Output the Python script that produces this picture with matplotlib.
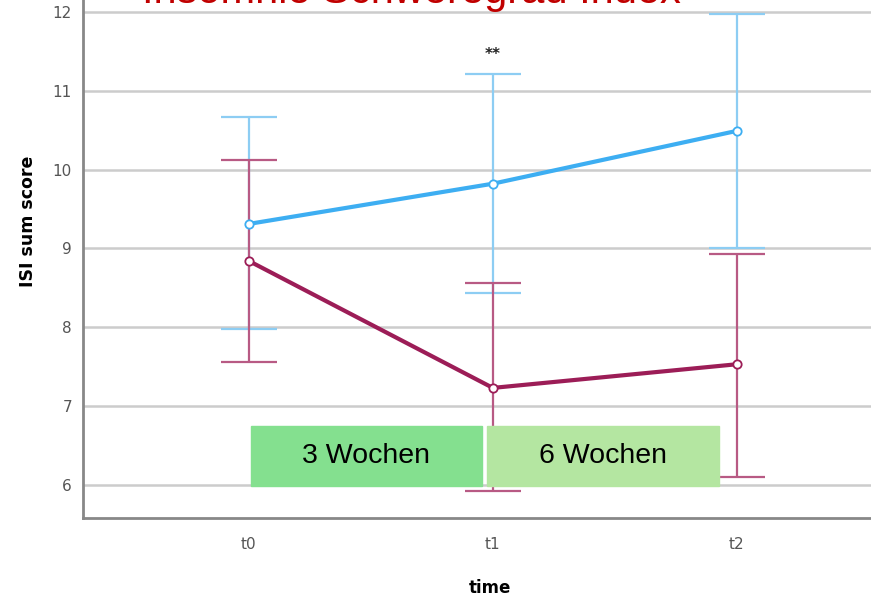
import matplotlib.pyplot as plt
from matplotlib.patches import Rectangle

time_labels = ["t0", "t1", "t2"]
blue_mean = [9.31, 9.82, 10.49]
blue_low = [7.98, 8.43, 9.00]
blue_high = [10.66, 11.21, 11.97]
purple_mean = [8.84, 7.23, 7.53]
purple_low = [7.56, 5.92, 6.10]
purple_high = [10.12, 8.56, 8.93]
y_ticks = [6, 7, 8, 9, 10, 11, 12]
phase_labels = ["3 Wochen", "6 Wochen"]
phase_colors = ["#84E08F", "#B4E6A1"]

fig = plt.figure(figsize=(8.71, 5.98), dpi=100)
ax = fig.add_axes([0.0953, 0.1338, 0.9047, 0.8662])
x = list(range(len(time_labels)))

for mean, low, high, line_c, err_c in [
    (blue_mean, blue_low, blue_high, "#3DAEF2", "#8DCDF3"),
    (purple_mean, purple_low, purple_high, "#9C1D57", "#B85A84"),
]:
    err = [[m - l for m, l in zip(mean, low)], [h - m for m, h in zip(mean, high)]]
    ax.errorbar(x, mean, yerr=err, fmt="none", ecolor=err_c, elinewidth=1.6,
                capsize=20, capthick=1.6, zorder=2)
    ax.plot(x, mean, color=line_c, lw=3, marker="o", ms=6, mfc="white",
            mec=line_c, mew=1.3, zorder=3)

# phase boxes between the time points
for i, (lab, col) in enumerate(zip(phase_labels, phase_colors)):
    x0 = x[i] + (0.008 if i == 0 else -0.025)
    w = 0.947 if i == 0 else 0.951
    ax.add_patch(Rectangle((x0, 5.985), w, 0.76, color=col, zorder=4))
    ax.text(x0 + w / 2, 5.985 + 0.38, lab, ha="center", va="center",
            fontsize=20.5, family="Liberation Sans", zorder=5)

ax.text(x[1], 11.46, "**", ha="center", va="center", fontsize=11,
        fontweight="bold", color="#222222")

ax.set_xlim(-0.68, 2.55)
ax.set_ylim(5.58, 12.15)
ax.set_xticks(x)
ax.set_xticklabels(time_labels)
ax.set_yticks(y_ticks)
ax.tick_params(length=0, labelsize=11, colors="#555555", pad=8)
ax.tick_params(axis="x", pad=14)
ax.grid(axis="y", color="#CCCCCC", lw=1.8, zorder=0)
ax.set_axisbelow(True)
for s in ["top", "right"]:
    ax.spines[s].set_visible(False)
for s in ["left", "bottom"]:
    ax.spines[s].set_color("#888888")
    ax.spines[s].set_linewidth(2)
ax.set_ylabel("ISI sum score", fontsize=12.5, fontweight="bold")
ax.yaxis.set_label_coords(-0.058, 0.573)
ax.set_xlabel("time", fontsize=12, fontweight="bold")
ax.xaxis.set_label_coords(0.516, -0.118)

fig.text(0.472, 1 - 3 / 598, "Insomnie Schweregrad Index", ha="center",
         va="baseline", fontsize=30, color="#C00000", family="Liberation Sans")

fig.savefig("out.png", dpi=100)
